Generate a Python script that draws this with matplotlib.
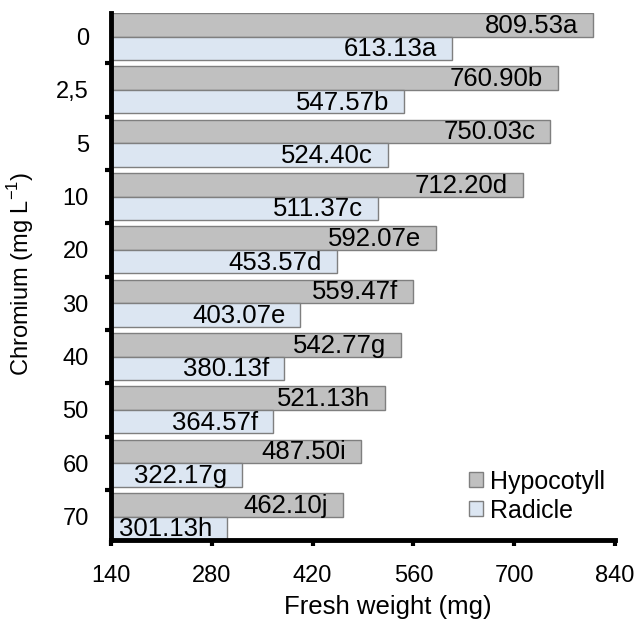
import matplotlib
matplotlib.use("Agg")
import matplotlib.pyplot as plt
import numpy as np

plt.rcParams['font.family'] = ['Liberation Sans', 'DejaVu Sans']
plt.rcParams['mathtext.fontset'] = 'custom'
plt.rcParams['mathtext.rm'] = 'Liberation Sans'

chromium = ['0', '2,5', '5', '10', '20', '30', '40', '50', '60', '70']
hypocotyll = [809.53, 760.90, 750.03, 712.20, 592.07, 559.47, 542.77, 521.13, 487.50, 462.10]
hypo_letters = ['a', 'b', 'c', 'd', 'e', 'f', 'g', 'h', 'i', 'j']
radicle = [613.13, 547.57, 524.40, 511.37, 453.57, 403.07, 380.13, 364.57, 322.17, 301.13]
rad_letters = ['a', 'b', 'c', 'c', 'd', 'e', 'f', 'f', 'g', 'h']
x_ticks = [140, 280, 420, 560, 700, 840]

fig = plt.figure(figsize=(6.39, 6.23), dpi=100)
ax = fig.add_axes([0.1737, 0.1332, 0.7887, 0.8458])

pos = np.arange(len(chromium))
h = 0.44
bh = ax.barh(pos - h / 2, hypocotyll, height=h, color='#c0c0c0',
             edgecolor='#7f7f7f', linewidth=1, label='Hypocotyll')
br = ax.barh(pos + h / 2, radicle, height=h, color='#dce6f2',
             edgecolor='#7f7f7f', linewidth=1, label='Radicle')

# value labels inside the bar ends
for bars, vals, lets in [(bh, hypocotyll, hypo_letters), (br, radicle, rad_letters)]:
    for b, v, l in zip(bars, vals, lets):
        ax.annotate(f'{v:.2f}{l}', (v, b.get_y() + b.get_height() / 2),
                    xytext=(-15, -1), textcoords='offset pixels',
                    ha='right', va='center', fontsize=18.5, color='black')

ax.set_xlim(140, 840)
ax.set_ylim(len(chromium) - 1 + h, -h)
ax.set_xticks(x_ticks)
ax.set_xticklabels([str(t) for t in x_ticks])
ax.set_yticks(pos)
ax.set_yticklabels(chromium)
ax.set_yticks(pos[:-1] + 0.5, minor=True)
ax.tick_params(axis='y', which='major', length=0, pad=16, labelsize=17)
ax.tick_params(axis='y', which='minor', length=4, width=3, direction='out')
ax.tick_params(axis='x', length=4, width=3, pad=14, labelsize=17)

for s in ['top', 'right']:
    ax.spines[s].set_visible(False)
for s in ['left', 'bottom']:
    ax.spines[s].set_linewidth(3.5)

ax.set_xlabel('Fresh weight (mg)', fontsize=18.5)
ax.xaxis.set_label_coords(0.55, -0.105)
ax.set_ylabel('Chromium (mg L$^{-1}$)', fontsize=17)
ax.yaxis.set_label_coords(-0.148, 0.505)

leg = ax.legend(loc='lower right', bbox_to_anchor=(1.025, -0.01), frameon=False,
                fontsize=18, handlelength=0.55, handleheight=0.55,
                handletextpad=0.3, labelspacing=0.2)

fig.savefig('out.png', dpi=100)
